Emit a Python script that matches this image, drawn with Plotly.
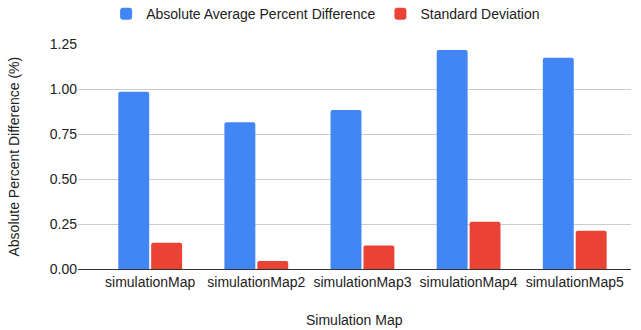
import plotly.graph_objects as go

categories = ["simulationMap", "simulationMap2", "simulationMap3", "simulationMap4", "simulationMap5"]
avg_diff = [0.985, 0.815, 0.883, 1.217, 1.174]
std_dev = [0.146, 0.044, 0.131, 0.263, 0.213]
y_ticks = [0, 0.25, 0.5, 0.75, 1.0, 1.25]
y_tick_labels = ["0.00", "0.25", "0.50", "0.75", "1.00", "1.25"]

xs = list(range(len(categories)))

fig = go.Figure()
fig.add_trace(go.Bar(x=xs, y=avg_diff, name="Absolute Average Percent Difference",
                     marker=dict(color="#4285F4", line=dict(width=0))))
fig.add_trace(go.Bar(x=xs, y=std_dev, name="Standard Deviation",
                     marker=dict(color="#EA4335", line=dict(width=0))))

font = "Liberation Sans, Arial, sans-serif"
fig.update_layout(
    width=641, height=330,
    margin=dict(l=78, r=10, t=44, b=61, autoexpand=False),
    paper_bgcolor="white", plot_bgcolor="white",
    barmode="group", bargap=0.38, bargroupgap=0.06,
    barcornerradius=2,
    font=dict(family=font, size=14, color="#222"),
    legend=dict(orientation="h", xref="container", x=0.508, xanchor="center",
                yref="paper", y=1.133, yanchor="middle",
                font=dict(size=14, color="#222"),
                itemwidth=30, traceorder="normal"),
    showlegend=True,
)
fig.update_xaxes(
    range=[-0.68, 4.53], tickvals=xs, ticktext=categories,
    showgrid=False, showline=True, linecolor="#333", linewidth=1,
    ticks="", zeroline=False, automargin=False,
    tickfont=dict(size=14, color="#222"),
)
fig.update_yaxes(
    range=[0, 1.25], tickvals=y_ticks, ticktext=y_tick_labels,
    showgrid=True, gridcolor="#cccccc", gridwidth=1, zeroline=False,
    ticks="", showline=False, automargin=False,
    tickfont=dict(size=14, color="#222"),
)
fig.add_annotation(text="Simulation Map", xref="paper", yref="paper",
                   x=0.5, y=-0.225, xanchor="center", yanchor="middle",
                   showarrow=False, font=dict(size=14, color="#222"))
fig.add_annotation(text="Absolute Percent Difference (%)", xref="paper", yref="paper",
                   x=-65 / 553, y=0.5, xanchor="center", yanchor="middle", textangle=-90,
                   showarrow=False, font=dict(size=14, color="#222"))
fig.write_html("out.html", config={"displayModeBar": False},
               post_script="document.body.style.margin='0';")
